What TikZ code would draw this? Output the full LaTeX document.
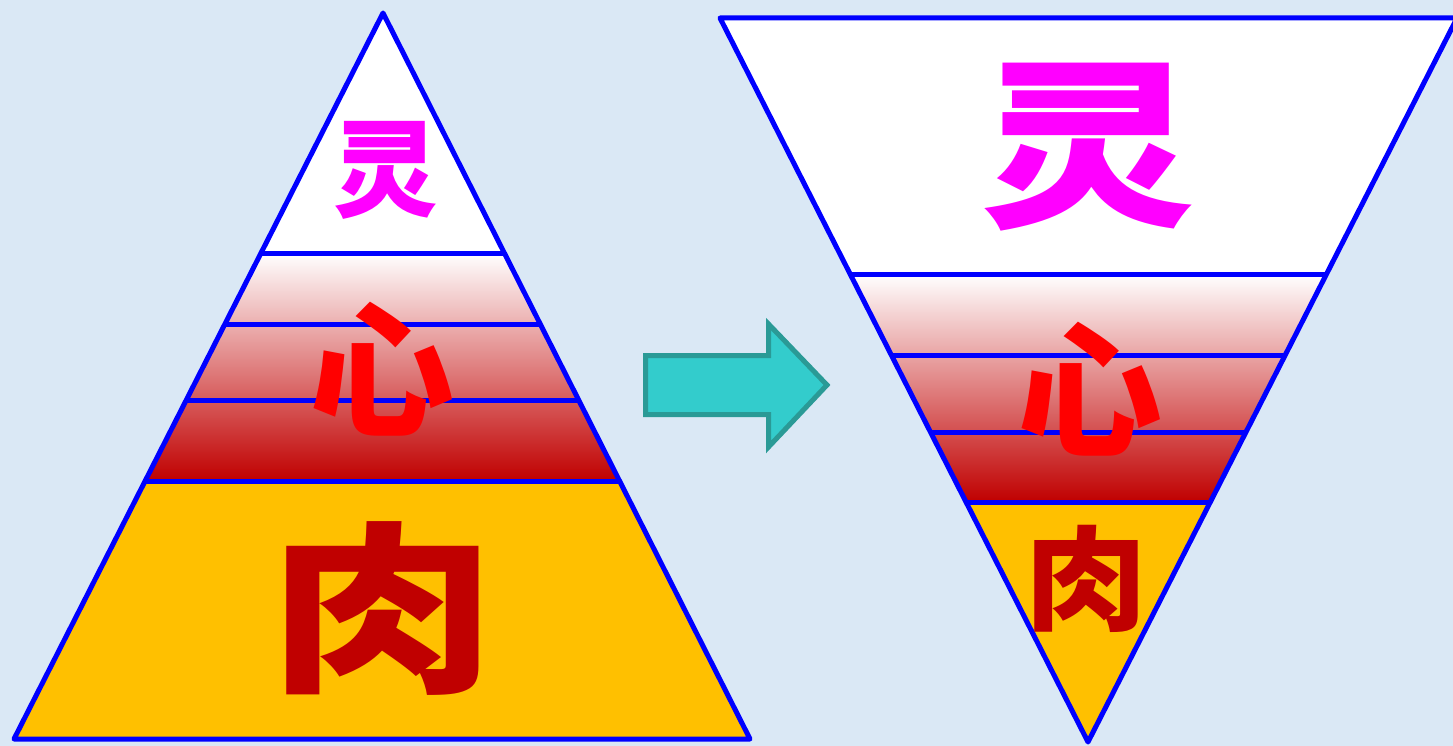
\documentclass[tikz,border=0pt]{standalone}
\usepackage{fontspec}
\newfontfamily\cjk{Noto Sans CJK SC}
\definecolor{bgblue}{HTML}{DAE8F5}
\definecolor{edgeblue}{HTML}{0000FF}
\definecolor{darkred}{HTML}{C00000}
\definecolor{gold}{HTML}{FFC000}
\definecolor{teal}{HTML}{33CCCC}
\definecolor{tealdark}{HTML}{2A9A96}
\definecolor{magenta2}{HTML}{FF00FF}
\tikzset{
  blueline/.style={draw=edgeblue,line width=5pt,line join=round},
  redband/.style={top color=white,bottom color=darkred},
  glyph/.style={inner sep=0pt},
  blockarrow/.style={fill=teal,draw=tealdark,line width=5pt,line join=miter}
}
\begin{document}
\begin{tikzpicture}[x=1pt,y=-1pt]
\useasboundingbox (0,0) rectangle (1453,746);
\fill[bgblue] (0,0) rectangle (1453,746);
% ---- left pyramid ----
\coordinate (LA) at (383,13);
\coordinate (LBL) at (14,739);
\coordinate (LBR) at (750,739);
\coordinate (L1l) at (261.0,253); \coordinate (L1r) at (504.3,253);
\coordinate (L2l) at (224.9,324); \coordinate (L2r) at (540.2,324);
\coordinate (L3l) at (186.3,400); \coordinate (L3r) at (578.6,400);
\coordinate (L4l) at (145.1,481); \coordinate (L4r) at (619.6,481);
\fill[white] (LA) -- (L1l) -- (L1r) -- cycle;
\shade[redband] (L1l) -- (L1r) -- (L4r) -- (L4l) -- cycle;
\fill[gold] (L4l) -- (L4r) -- (LBR) -- (LBL) -- cycle;
\draw[blueline] (L1l) -- (L1r);
\draw[blueline] (L2l) -- (L2r);
\draw[blueline] (L3l) -- (L3r);
\draw[blueline] (L4l) -- (L4r);
\draw[blueline] (LA) -- (LBR) -- (LBL) -- cycle;
% ---- right inverted pyramid ----
\coordinate (RTL) at (720,18);
\coordinate (RTR) at (1457,18);
\coordinate (RB) at (1088,742);
\coordinate (R1l) at (850.1,274); \coordinate (R1r) at (1326.5,274);
\coordinate (R2l) at (891.3,355); \coordinate (R2r) at (1285.2,355);
\coordinate (R3l) at (930.4,432); \coordinate (R3r) at (1246.0,432);
\coordinate (R4l) at (966.0,502); \coordinate (R4r) at (1210.3,502);
\fill[white] (RTL) -- (RTR) -- (R1r) -- (R1l) -- cycle;
\shade[redband] (R1l) -- (R1r) -- (R4r) -- (R4l) -- cycle;
\fill[gold] (R4l) -- (R4r) -- (RB) -- cycle;
\draw[blueline] (R1l) -- (R1r);
\draw[blueline] (R2l) -- (R2r);
\draw[blueline] (R3l) -- (R3r);
\draw[blueline] (R4l) -- (R4r);
\draw[blueline] (RTL) -- (RTR) -- (RB) -- cycle;
% ---- arrow ----
\draw[blockarrow] (645.5,355.5) -- (768.5,355.5) -- (768.5,324) -- (827,385)
  -- (768.5,447) -- (768.5,414.5) -- (645.5,414.5) -- cycle;
% ---- texts ----
\node[glyph,text=magenta2,font=\cjk\bfseries\fontsize{105}{105}\selectfont] (ling1) at (386,170) {灵};
\node[glyph,text=red,font=\cjk\bfseries\fontsize{145}{145}\selectfont] (xin1) at (382,369) {心};
\node[glyph,text=darkred,xscale=1.24,font=\cjk\bfseries\fontsize{183}{183}\selectfont] (rou1) at (383,609) {肉};
\node[glyph,text=magenta2,xscale=1.2,font=\cjk\bfseries\fontsize{180}{180}\selectfont] (ling2) at (1088,147) {灵};
\node[glyph,text=red,font=\cjk\bfseries\fontsize{145}{145}\selectfont] (xin2) at (1090,389) {心};
\node[glyph,text=darkred,xscale=1.08,font=\cjk\bfseries\fontsize{113}{113}\selectfont] (rou2) at (1087,579) {肉};
\end{tikzpicture}
\end{document}
